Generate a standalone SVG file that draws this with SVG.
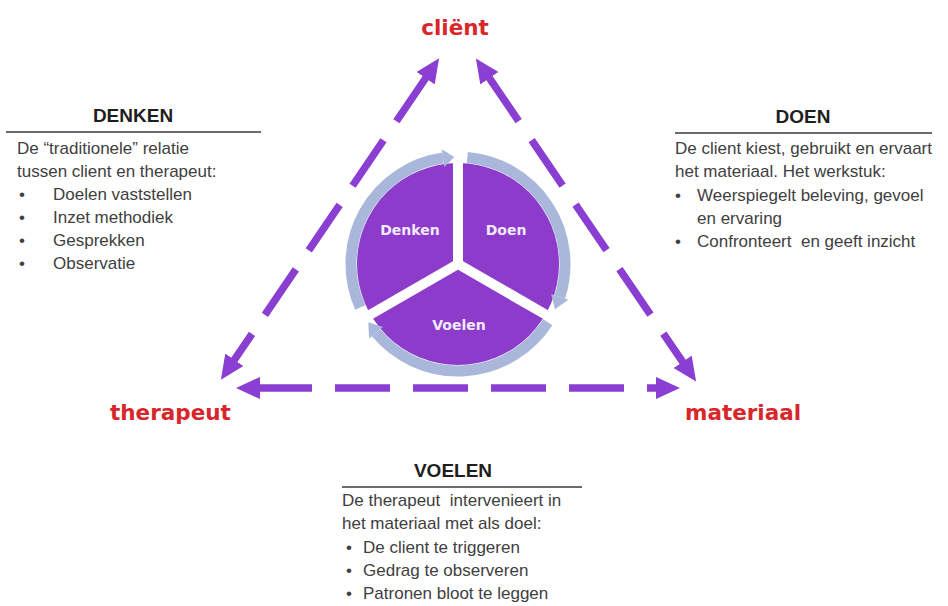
<svg xmlns="http://www.w3.org/2000/svg" width="948" height="606" viewBox="0 0 948 606">
<defs>
<style>
.lbl{font-family:"DejaVu Sans",sans-serif;font-weight:bold;font-size:21.5px;fill:#d8262a}
.ttl{font-family:"Liberation Sans",Arial,sans-serif;font-weight:bold;font-size:19px;fill:#1e1e1e;text-anchor:middle}
.body{font-family:"Liberation Sans",Arial,sans-serif;font-size:17px;fill:#404040}
.rule{stroke:#3a3a3a;stroke-width:1.6}
.pie{font-family:"DejaVu Sans",sans-serif;font-weight:bold;font-size:14px;fill:#f3eafb;text-anchor:middle}
.arr{fill:none;stroke:#8a3fd2;stroke-width:7.5;stroke-dasharray:55 23;stroke-dashoffset:-5}
.ring{fill:none;stroke:#a9b7db;stroke-width:11}
.ringhead{fill:#a9b7db}
</style>
<marker id="ah" markerUnits="userSpaceOnUse" markerWidth="26" markerHeight="22" refX="8" refY="11" orient="auto-start-reverse" viewBox="0 0 26 22">
<path d="M0,0 L24,11 L0,22 z" fill="#8a3fd2"/>
</marker>
</defs>
<rect width="948" height="606" fill="#ffffff"/>

<g id="connectors">
<line class="arr" x1="430.1" y1="71.6" x2="229.9" y2="366.4" marker-start="url(#ah)" marker-end="url(#ah)"/>
<line class="arr" x1="484.9" y1="71.6" x2="687.1" y2="368.4" marker-start="url(#ah)" marker-end="url(#ah)"/>
<line class="arr" x1="252" y1="388" x2="664" y2="388" marker-start="url(#ah)" marker-end="url(#ah)"/>
</g>

<g id="cycle">
<circle cx="458" cy="264" r="101" fill="#8c3bcb"/>
<g stroke="#ffffff" stroke-width="10" stroke-linecap="butt">
<line x1="458" y1="264" x2="458" y2="160"/>
<line x1="458" y1="264" x2="548.1" y2="316"/>
<line x1="458" y1="264" x2="367.9" y2="316"/>
</g>
<path class="ring" d="M360.25,307.52 A107,107 0 0 1 443.11,158.04"/>
<polygon class="ringhead" points="444.36,166.95 441.85,149.13 454.27,157.06"/>
<path class="ring" d="M467.33,157.41 A107,107 0 0 1 559.77,297.07"/>
<polygon class="ringhead" points="551.21,294.28 568.33,299.85 554.97,309.22"/>
<path class="ring" d="M547.74,322.27 A107,107 0 0 1 376.04,332.78"/>
<polygon class="ringhead" points="382.93,327.0 369.14,338.56 368.26,322.27"/>
<text class="pie" x="410" y="235">Denken</text>
<text class="pie" x="506" y="235">Doen</text>
<text class="pie" x="459" y="330">Voelen</text>
</g>

<g id="client"><text class="lbl" x="455" y="35" text-anchor="middle">cliënt</text></g>
<g id="therapeut"><text class="lbl" x="110" y="420">therapeut</text></g>
<g id="materiaal"><text class="lbl" x="685" y="420">materiaal</text></g>

<g id="denken">
<text class="ttl" x="133" y="122">DENKEN</text>
<line class="rule" x1="6" y1="132" x2="261" y2="132"/>
<text class="body" x="17" y="154">De “traditionele” relatie</text>
<text class="body" x="17" y="177">tussen client en therapeut:</text>
<text class="body" x="19" y="200">•</text><text class="body" x="53" y="200">Doelen vaststellen</text>
<text class="body" x="19" y="223">•</text><text class="body" x="53" y="223">Inzet methodiek</text>
<text class="body" x="19" y="246">•</text><text class="body" x="53" y="246">Gesprekken</text>
<text class="body" x="19" y="269">•</text><text class="body" x="53" y="269">Observatie</text>
</g>

<g id="doen">
<text class="ttl" x="803" y="123">DOEN</text>
<line class="rule" x1="675" y1="133" x2="932" y2="133"/>
<text class="body" x="675" y="154">De client kiest, gebruikt en ervaart</text>
<text class="body" x="675" y="177">het materiaal. Het werkstuk:</text>
<text class="body" x="675" y="201">•</text><text class="body" x="697" y="201">Weerspiegelt beleving, gevoel</text>
<text class="body" x="697" y="224">en ervaring</text>
<text class="body" x="675" y="247">•</text><text class="body" x="697" y="247" xml:space="preserve">Confronteert  en geeft inzicht</text>
</g>

<g id="voelen">
<text class="ttl" x="453" y="477">VOELEN</text>
<line class="rule" x1="342" y1="487" x2="582" y2="487"/>
<text class="body" x="342" y="506" xml:space="preserve">De therapeut  intervenieert in</text>
<text class="body" x="342" y="529">het materiaal met als doel:</text>
<text class="body" x="346" y="553">•</text><text class="body" x="363" y="553">De client te triggeren</text>
<text class="body" x="346" y="576">•</text><text class="body" x="363" y="576">Gedrag te observeren</text>
<text class="body" x="346" y="599">•</text><text class="body" x="363" y="599">Patronen bloot te leggen</text>
</g>
</svg>
